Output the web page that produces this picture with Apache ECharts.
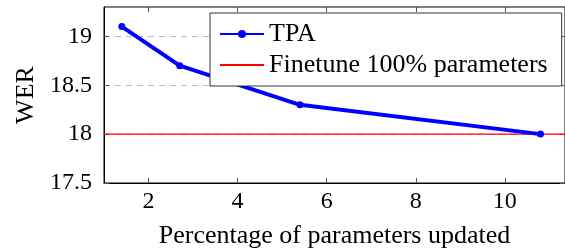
<!DOCTYPE html>
<html>
<head>
<meta charset="utf-8">
<script src="https://cdn.jsdelivr.net/npm/echarts@6/dist/echarts.min.js"></script>
<style>
  html, body { margin: 0; padding: 0; background: #fff; }
  #chart { width: 565px; height: 248px; }
</style>
</head>
<body>
<div id="chart"></div>
<script>
// data
const percentUpdated = [1.4, 2.7, 5.4, 10.8];
const tpaWer = [19.1, 18.7, 18.3, 18.0];
const finetuneWer = 18.0;
const xTicks = [2, 4, 6, 8, 10];
const yTicks = [17.5, 18, 18.5, 19];

const X_MIN = 1.0, X_MAX = 11.35;
const Y_MIN = 17.5, Y_MAX = 19.3;

const serif = 'Liberation Serif';
const chart = echarts.init(document.getElementById('chart'));

const tickStyle = { show: true, inside: true, length: 5, lineStyle: { color: '#555', width: 1 } };

const option = {
  animation: false,
  grid: {
    left: 104, right: 0, top: 7, bottom: 65,
    outerBoundsMode: 'none',
    containLabel: false,
    show: true, borderColor: '#000', borderWidth: 1
  },
  legend: {
    orient: 'vertical',
    left: 210, top: 13,
    data: [
      { name: 'TPA' },
      { name: 'Finetune 100% parameters', itemStyle: { opacity: 0 } }
    ],
    backgroundColor: '#fff',
    borderColor: '#333', borderWidth: 1,
    padding: [7, 14, 7, 9],
    itemGap: 3,
    itemWidth: 44, itemHeight: 10,
    textStyle: { fontFamily: serif, fontSize: 26, color: '#000', lineHeight: 28 }
  },
  xAxis: [
    {
      type: 'value', min: X_MIN, max: X_MAX,
      name: 'Percentage of parameters updated',
      nameLocation: 'middle', nameGap: 40,
      nameTextStyle: { fontFamily: serif, fontSize: 26, color: '#000' },
      axisLine: { show: true, lineStyle: { color: '#000', width: 1 } },
      axisTick: Object.assign({ customValues: xTicks }, tickStyle),
      axisLabel: { customValues: xTicks, fontFamily: serif, fontSize: 24, color: '#000', margin: 7 },
      splitLine: { show: false }
    },
    {
      type: 'value', position: 'top', min: X_MIN, max: X_MAX,
      axisLine: { show: false },
      axisTick: Object.assign({ customValues: xTicks }, tickStyle),
      axisLabel: { show: false },
      splitLine: { show: false }
    }
  ],
  yAxis: [
    {
      type: 'value', min: Y_MIN, max: Y_MAX,
      name: 'WER', nameLocation: 'middle', nameGap: 65, nameRotate: 90,
      nameTextStyle: { fontFamily: serif, fontSize: 26, color: '#000' },
      axisLine: { show: true, lineStyle: { color: '#000', width: 1 } },
      axisTick: Object.assign({ customValues: yTicks }, tickStyle),
      axisLabel: { customValues: yTicks, fontFamily: serif, fontSize: 24, color: '#000', margin: 12 },
      splitLine: { show: true, lineStyle: { color: '#bbb', type: [6, 5], width: 1 } }
    },
    {
      type: 'value', position: 'right', min: Y_MIN, max: Y_MAX,
      axisLine: { show: false },
      axisTick: Object.assign({ customValues: yTicks }, tickStyle),
      axisLabel: { show: false },
      splitLine: { show: false }
    }
  ],
  series: [
    {
      name: 'Finetune 100% parameters',
      type: 'line',
      symbol: 'none',
      data: [[X_MIN, finetuneWer], [X_MAX, finetuneWer]],
      lineStyle: { color: '#ff0000', width: 1.2 },
      itemStyle: { color: '#ff0000' },
      z: 2
    },
    {
      name: 'TPA',
      type: 'line',
      symbol: 'circle',
      symbolSize: 7,
      data: percentUpdated.map((x, i) => [x, tpaWer[i]]),
      lineStyle: { color: '#0000ff', width: 4 },
      itemStyle: { color: '#0000ff' },
      z: 3
    }
  ]
};

chart.setOption(option);
</script>
</body>
</html>
